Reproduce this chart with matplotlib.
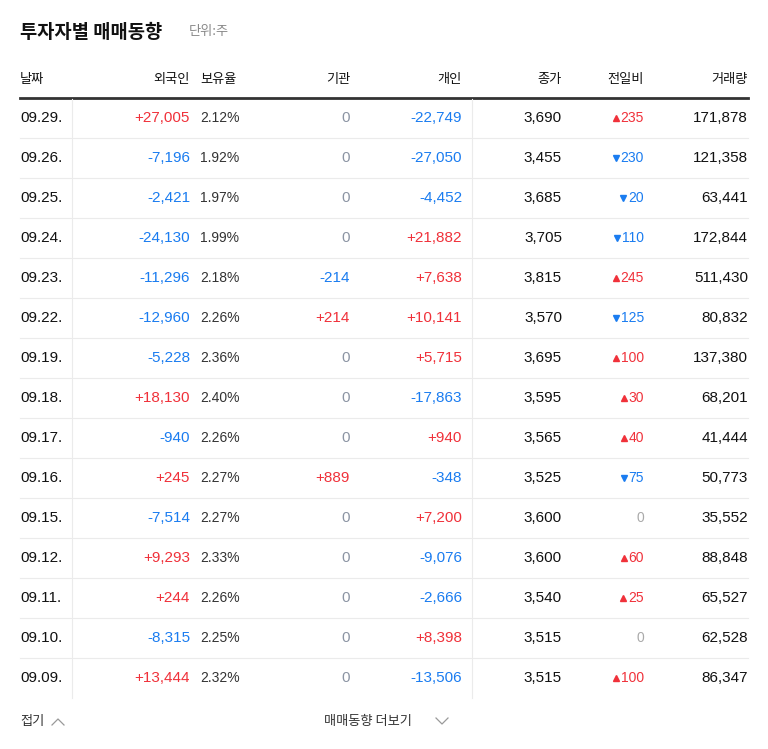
import matplotlib
matplotlib.use("Agg")
import matplotlib.pyplot as plt
from matplotlib import font_manager

dates = ["09.29.","09.26.","09.25.","09.24.","09.23.","09.22.","09.19.","09.18.","09.17.","09.16.","09.15.","09.12.","09.11.","09.10.","09.09."]
foreign = [27005,-7196,-2421,-24130,-11296,-12960,-5228,18130,-940,245,-7514,9293,244,-8315,13444]
hold = [2.12,1.92,1.97,1.99,2.18,2.26,2.36,2.40,2.26,2.27,2.27,2.33,2.26,2.25,2.32]
inst = [0,0,0,0,-214,214,0,0,0,889,0,0,0,0,0]
indiv = [-22749,-27050,-4452,21882,7638,10141,5715,-17863,940,-348,7200,-9076,-2666,8398,-13506]
close = [3690,3455,3685,3705,3815,3570,3695,3595,3565,3525,3600,3600,3540,3515,3515]
change = [235,-230,-20,-110,245,-125,100,30,40,-75,0,60,25,0,100]
volume = [171878,121358,63441,172844,511430,80832,137380,68201,41444,50773,35552,88848,65527,62528,86347]
headers = ["날짜","외국인","보유율","기관","개인","종가","전일비","거래량"]

RED = "#f0313a"; BLUE = "#1a7cf0"; GRAY = "#8b94a3"; BLACK = "#111111"
cjk = [f.name for f in font_manager.fontManager.ttflist if "CJK" in f.name]
pref = [n for n in ["Noto Sans CJK KR","Noto Sans CJK JP","Noto Sans CJK SC"] if n in cjk] or cjk[:1]
plt.rcParams["font.family"] = ["Liberation Sans"] + pref + ["DejaVu Sans"]
KFONT = pref + ["DejaVu Sans"]

fig = plt.figure(figsize=(7.68, 7.49), dpi=100)
ax = fig.add_axes([0, 0, 1, 1])
ax.set_xlim(0, 768); ax.set_ylim(749, 0); ax.axis("off")

ax.text(20, 32, "투자자별 매매동향", fontsize=13.5, fontweight="bold", va="center", color=BLACK, family=KFONT)
ax.text(189, 32, "단위:주", fontsize=9.5, va="center", color="#888888", family=KFONT)

hx = [(20,"left"),(190,"right"),(200,"left"),(350,"right"),(462,"right"),(562,"right"),(644,"right"),(748,"right")]
for h,(x,ha) in zip(headers,hx):
    ax.text(x, 80, h, fontsize=9.5, ha=ha, va="center", color=BLACK, family=KFONT)
ax.plot([20,748],[98,98], color="#333333", lw=2)

def sgn(v, color_zero=GRAY):
    if v > 0: return f"+{v:,}", RED
    if v < 0: return f"{v:,}", BLUE
    return "0", color_zero

n = len(dates)
fs = 11
tri = []
for i in range(n):
    y = 118 + 40*i
    if i < n-1:
        ax.plot([20,748],[y+20,y+20], color="#ebebeb", lw=0.8)
    ax.text(20, y, dates[i], fontsize=fs, va="center", color=BLACK)
    s,c = sgn(foreign[i]); ax.text(190, y, s, fontsize=fs, ha="right", va="center", color=c)
    ax.text(200, y, f"{hold[i]:.2f}%", fontsize=10, va="center", color="#333333")
    s,c = sgn(inst[i]); ax.text(350, y, s, fontsize=fs, ha="right", va="center", color=c)
    s,c = sgn(indiv[i]); ax.text(462, y, s, fontsize=fs, ha="right", va="center", color=c)
    ax.text(562, y, f"{close[i]:,}", fontsize=fs, ha="right", va="center", color=BLACK)
    v = change[i]
    col = RED if v > 0 else (BLUE if v < 0 else "#aaaaaa")
    t = ax.text(644, y, f"{abs(v)}", fontsize=10, ha="right", va="center", color=col)
    if v != 0:
        tri.append((t, y, "^" if v > 0 else "v", col))
    ax.text(748, y, f"{volume[i]:,}", fontsize=fs, ha="right", va="center", color=BLACK)

ybot = 118 + 40*(n-1) + 20
for x in (72, 472):
    ax.plot([x,x],[99,ybot], color="#ebebeb", lw=0.8)

r = fig.canvas.get_renderer()
inv = ax.transData.inverted()
for t, y, m, col in tri:
    bb = t.get_window_extent(r)
    x0 = inv.transform((bb.x0, 0))[0]
    ax.plot(x0-5, y, marker=m, color=col, markersize=4.5, linestyle="none")

ax.text(20, 721, "접기", fontsize=9.5, va="center", color="#333333", family=KFONT)
ax.plot([52,58,64],[725,719,725], color="#999999", lw=0.9)
ax.text(324, 721, "매매동향 더보기", fontsize=9.5, va="center", color="#333333", family=KFONT)
ax.plot([436,442,448],[718,724,718], color="#999999", lw=0.9)

fig.savefig("out.png", dpi=100)
